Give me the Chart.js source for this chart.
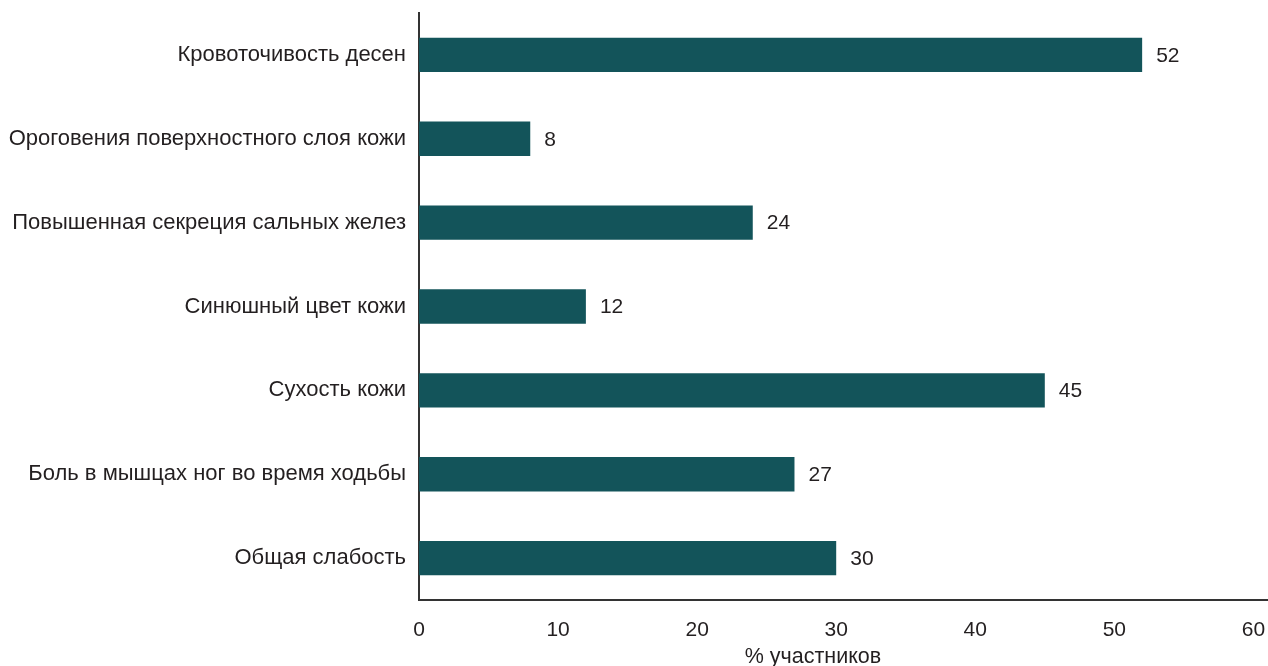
<!DOCTYPE html>
<html>
<head>
<meta charset="utf-8">
<script src="https://cdn.jsdelivr.net/npm/chart.js@4"></script>
<style>
  html, body { margin: 0; padding: 0; background: #fff; }
  #wrap { width: 1268px; height: 666px; position: relative; }
</style>
</head>
<body>
<div id="wrap"><canvas id="chart"></canvas></div>
<script>
// Data
const categories = [
    'Кровоточивость десен',
    'Ороговения поверхностного слоя кожи',
    'Повышенная секреция сальных желез',
    'Синюшный цвет кожи',
    'Сухость кожи',
    'Боль в мышцах ног во время ходьбы',
    'Общая слабость'
];
const values = [52, 8, 24, 12, 45, 27, 30];
const xTicks = [0, 10, 20, 30, 40, 50, 60];
const xTitle = '% участников';

const FONT = 'Liberation Sans, Arial, Helvetica, sans-serif';
const TEXT = '#231f20';
const BAR = '#13545a';

// value labels at the end of each bar + the axis title
const labelsPlugin = {
    id: 'barLabels',
    afterDatasetsDraw(chart) {
        const ctx = chart.ctx;
        const meta = chart.getDatasetMeta(0);
        ctx.save();
        ctx.font = '21px ' + FONT;
        ctx.fillStyle = TEXT;
        ctx.textAlign = 'left';
        ctx.textBaseline = 'middle';
        meta.data.forEach((bar, i) => {
            ctx.fillText(String(values[i]), bar.x + 14, bar.y + 1);
        });
        ctx.textAlign = 'center';
        ctx.textBaseline = 'alphabetic';
        ctx.font = '21.5px ' + FONT;
        ctx.fillText(xTitle, 813, 663);
        ctx.restore();
    }
};

new Chart(document.getElementById('chart'), {
    type: 'bar',
    data: {
        labels: categories,
        datasets: [{
            data: values,
            backgroundColor: BAR,
            categoryPercentage: 1,
            barPercentage: 0.41
        }]
    },
    options: {
        indexAxis: 'y',
        responsive: true,
        maintainAspectRatio: false,
        animation: false,
        layout: { padding: { top: 13, right: 0, left: 0, bottom: 0 } },
        plugins: {
            legend: { display: false },
            tooltip: { enabled: false }
        },
        scales: {
            x: {
                min: 0,
                max: 61.05,
                afterBuildTicks(scale) {
                    scale.ticks = xTicks.map(v => ({ value: v }));
                },
                afterFit(scale) {
                    scale.height = 66;
                    scale.paddingLeft = 0;
                    scale.paddingRight = 0;
                },
                grid: { display: false, drawTicks: false },
                border: { display: true, color: '#333', width: 2 },
                ticks: {
                    color: TEXT,
                    font: { family: FONT, size: 21 },
                    padding: 18,
                    maxRotation: 0
                }
            },
            y: {
                afterFit(scale) {
                    scale.width = 419;
                    scale.paddingTop = 0;
                    scale.paddingBottom = 0;
                },
                grid: { display: false, drawTicks: false },
                border: { display: true, color: '#333', width: 2 },
                ticks: {
                    color: TEXT,
                    font: { family: FONT, size: 22 },
                    padding: 13
                }
            }
        }
    },
    plugins: [labelsPlugin]
});
</script>
</body>
</html>
